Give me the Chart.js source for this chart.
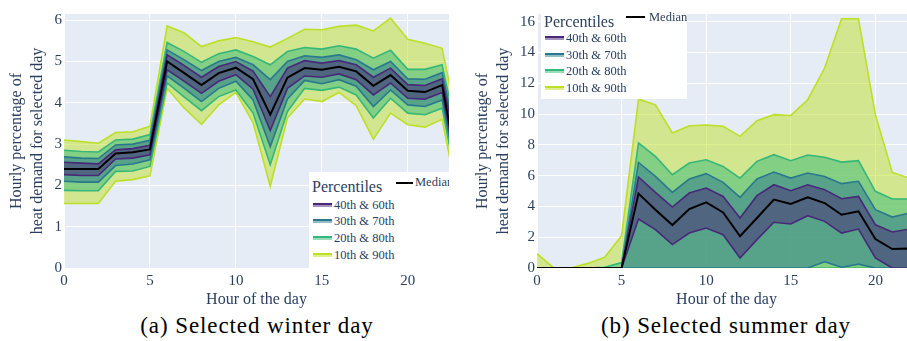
<!DOCTYPE html>
<html><head><meta charset="utf-8">
<script src="https://cdn.jsdelivr.net/npm/chart.js@4.4.1/dist/chart.umd.min.js"></script>
<style>
html,body{margin:0;padding:0;background:#fff;overflow:hidden;width:907px;height:341px;}
#wrap{position:relative;width:907px;height:341px;overflow:hidden;font-family:'Liberation Serif',serif;color:#2a3f5f;}
canvas{position:absolute;top:0;}
.lg{position:absolute;background:#fff;}
.lg div{position:absolute;white-space:nowrap;}
.ttl{font-size:16px;line-height:16px;}
.itm{font-size:12.5px;line-height:13px;}
.sw{width:19px;height:2px;border-top:2px solid #000;}
.med{height:2px;background:#000;}
.cap{position:absolute;top:313px;width:460px;text-align:center;font-family:'Liberation Serif',serif;font-size:23px;letter-spacing:0.9px;color:#000;white-space:nowrap;}
</style>
</head><body>
<div id="wrap">
<canvas id="c1" width="455" height="310" style="left:0px"></canvas>
<canvas id="c2" width="460" height="310" style="left:460px"></canvas>

<div class="lg" style="left:309px;top:172px;width:140px;height:96px;overflow:hidden;">
  <div class="ttl" style="left:3px;top:7px;">Percentiles</div>
  <div class="med" style="left:87px;top:10px;width:17px;"></div>
  <div class="itm" style="left:106px;top:4px;">Median</div>
  <div class="sw" style="left:4px;top:31px;border-color:#482878;background:rgba(72,40,120,0.5)"></div>
  <div class="itm" style="left:25px;top:27px;">40th &amp; 60th</div>
  <div class="sw" style="left:4px;top:47px;border-color:#2a788e;background:rgba(42,120,142,0.5)"></div>
  <div class="itm" style="left:25px;top:43px;">30th &amp; 70th</div>
  <div class="sw" style="left:4px;top:64px;border-color:#35b779;background:rgba(53,183,121,0.5)"></div>
  <div class="itm" style="left:25px;top:60px;">20th &amp; 80th</div>
  <div class="sw" style="left:4px;top:81px;border-color:#bddf26;background:rgba(189,223,38,0.5)"></div>
  <div class="itm" style="left:25px;top:77px;">10th &amp; 90th</div>
</div>

<div class="lg" style="left:541px;top:14px;width:146px;height:85px;overflow:visible;">
  <div class="ttl" style="left:3px;top:0px;">Percentiles</div>
  <div class="med" style="left:85px;top:2px;width:19px;"></div>
  <div class="itm" style="left:108px;top:-3px;">Median</div>
  <div class="sw" style="left:4px;top:22px;border-color:#482878;background:rgba(72,40,120,0.5)"></div>
  <div class="itm" style="left:25px;top:18px;">40th &amp; 60th</div>
  <div class="sw" style="left:4px;top:39px;border-color:#2a788e;background:rgba(42,120,142,0.5)"></div>
  <div class="itm" style="left:25px;top:35px;">30th &amp; 70th</div>
  <div class="sw" style="left:4px;top:55px;border-color:#35b779;background:rgba(53,183,121,0.5)"></div>
  <div class="itm" style="left:25px;top:51px;">20th &amp; 80th</div>
  <div class="sw" style="left:4px;top:72px;border-color:#bddf26;background:rgba(189,223,38,0.5)"></div>
  <div class="itm" style="left:25px;top:68px;">10th &amp; 90th</div>
</div>

<div class="cap" style="left:27px;">(a) Selected winter day</div>
<div class="cap" style="left:496px;">(b) Selected summer day</div>
</div>

<script>
const hours = [0,1,2,3,4,5,6,7,8,9,10,11,12,13,14,15,16,17,18,19,20,21,22,23];

// Selected winter day
const w10 = [1.56,1.56,1.56,2.10,2.14,2.23,4.35,3.87,3.48,3.95,4.25,3.52,1.98,3.63,4.09,4.03,4.25,3.93,3.12,3.75,3.47,3.41,3.60,1.50];
const w20 = [1.88,1.87,1.87,2.34,2.35,2.46,4.48,4.14,3.81,4.15,4.31,3.75,2.50,3.79,4.35,4.30,4.38,4.19,3.63,4.11,3.75,3.71,3.87,1.75];
const w30 = [2.10,2.08,2.08,2.48,2.52,2.62,4.65,4.35,4.03,4.35,4.52,4.07,2.94,4.09,4.54,4.46,4.56,4.40,3.91,4.31,3.95,3.91,4.07,1.90];
const w40 = [2.26,2.24,2.24,2.64,2.66,2.74,4.80,4.52,4.23,4.52,4.68,4.33,3.33,4.35,4.65,4.62,4.70,4.56,4.19,4.48,4.11,4.09,4.25,2.05];
const w50 = [2.40,2.40,2.40,2.77,2.80,2.87,5.00,4.72,4.43,4.72,4.85,4.57,3.71,4.61,4.84,4.80,4.87,4.76,4.41,4.67,4.29,4.26,4.43,2.20];
const w60 = [2.56,2.54,2.52,2.86,2.89,2.97,5.16,4.90,4.62,4.88,5.00,4.77,4.15,4.84,5.02,4.96,5.02,4.92,4.62,4.84,4.44,4.42,4.58,2.60];
const w70 = [2.69,2.66,2.65,2.98,3.00,3.09,5.28,5.04,4.78,5.00,5.10,4.92,4.56,5.00,5.14,5.10,5.16,5.04,4.80,5.00,4.58,4.57,4.73,2.80];
const w80 = [2.85,2.82,2.81,3.10,3.12,3.23,5.46,5.24,4.98,5.19,5.28,5.12,4.92,5.24,5.34,5.30,5.38,5.30,5.08,5.27,4.81,4.81,4.92,3.00];
const w90 = [3.10,3.06,3.02,3.28,3.30,3.43,5.86,5.69,5.36,5.50,5.58,5.48,5.35,5.56,5.78,5.77,5.85,5.88,5.74,6.05,5.54,5.44,5.32,3.30];

// Selected summer day
const s10 = [0,0,0,0,0,0,0,0,0,0,0,0,0,0,0,0,0,0,0,0,0,0,0,0];
const s20 = [0,0,0,0,0,0,0,0,0,0,0,0,0,0,0,0,0,0,0,0,0,0,0,0];
const s30 = [0,0,0,0,0,0,0,0,0,0,0,0,0,0,0,0,0,0.40,0.05,0.25,0,0,0,0];
const s40 = [0,0,0,0,0,0,3.18,2.49,1.52,2.27,2.60,2.16,0.65,1.84,2.97,2.86,3.40,3.03,2.27,2.53,0.65,0,0,0];
const s50 = [0,0,0,0,0,0,4.83,3.79,2.79,3.83,4.26,3.61,2.06,3.25,4.44,4.16,4.59,4.22,3.46,3.68,1.88,1.23,1.26,0.80];
const s60 = [0,0,0,0,0,0,5.91,4.91,3.96,4.87,5.19,4.65,3.25,4.70,5.41,5.02,5.41,5.09,4.50,4.65,2.81,2.34,2.53,1.50];
const s70 = [0,0,0,0,0,0,6.86,5.95,4.91,5.78,6.13,5.56,4.59,5.78,6.23,5.84,6.17,5.95,5.48,5.63,3.79,3.31,3.57,2.00];
const s80 = [0,0,0,0,0.05,0.35,8.12,7.25,6.06,6.82,7.03,6.60,5.84,6.93,7.36,6.97,7.34,7.19,6.88,6.97,4.98,4.48,4.48,2.80];
const s90 = [0.93,0,0,0.30,0.70,2.10,10.97,10.60,8.77,9.24,9.29,9.20,8.55,9.57,9.96,9.91,10.93,12.99,16.19,16.19,9.96,6.21,5.84,4.00];

const xTicks = [0,5,10,15,20];
const yTitle = ['Hourly percentage of','heat demand for selected day'];
const xTitle = 'Hour of the day';

const INK = '#2a3f5f';
const FONT = "'Liberation Serif', serif";

const bgPlugin = {
  id: 'plotbg',
  beforeDraw(chart) {
    const {ctx, chartArea: a} = chart;
    ctx.save();
    ctx.fillStyle = '#e5ecf6';
    ctx.fillRect(a.left, a.top, a.right - a.left, a.bottom - a.top);
    ctx.restore();
  }
};

function pts(arr) { return hours.map((h, i) => ({x: h, y: arr[i]})); }

function line(data, color, width, fillTarget, fillColor) {
  return {
    data: pts(data),
    borderColor: color,
    borderWidth: width,
    pointRadius: 0,
    tension: 0,
    fill: fillTarget === null ? false : fillTarget,
    backgroundColor: fillColor || 'transparent'
  };
}

function makeChart(id, p, yMax, yStep, yAxisW, titlePadTop, padRight) {
  const datasets = [
    line(p[4], '#000000', 2, null),                                   // 0 median
    line(p[5], '#482878', 1.6, 2, 'rgba(72,40,120,0.5)'),             // 1 p60
    line(p[3], '#482878', 1.6, null),                                 // 2 p40
    line(p[6], '#2a788e', 1.6, 4, 'rgba(42,120,142,0.5)'),            // 3 p70
    line(p[2], '#2a788e', 1.6, null),                                 // 4 p30
    line(p[7], '#35b779', 1.6, 6, 'rgba(53,183,121,0.5)'),            // 5 p80
    line(p[1], '#35b779', 1.6, null),                                 // 6 p20
    line(p[8], '#bddf26', 1.6, 8, 'rgba(189,223,38,0.5)'),            // 7 p90
    line(p[0], '#bddf26', 1.6, null)                                  // 8 p10
  ];
  return new Chart(document.getElementById(id), {
    type: 'line',
    data: {datasets},
    plugins: [bgPlugin],
    options: {
      responsive: false,
      animation: false,
      devicePixelRatio: 1,
      layout: {padding: {top: 14, right: padRight, left: 0, bottom: 0}},
      plugins: {
        legend: {display: false},
        tooltip: {enabled: false},
        filler: {drawTime: 'beforeDatasetsDraw', propagate: false}
      },
      scales: {
        x: {
          type: 'linear',
          min: 0, max: 22.4,
          afterBuildTicks(s) { s.ticks = xTicks.map(v => ({value: v})); },
          afterFit(s) { s.height = 42; },
          ticks: {includeBounds: false, padding: 4, color: INK, font: {family: FONT, size: 15}, maxRotation: 0},
          grid: {color: '#ffffff', lineWidth: 1, drawTicks: false},
          border: {display: false},
          title: {display: true, text: xTitle, color: INK, font: {family: FONT, size: 16}, padding: {top: 0, bottom: 1}}
        },
        y: {
          min: 0, max: yMax,
          afterFit(s) { s.width = yAxisW; },
          ticks: {stepSize: yStep, includeBounds: false, padding: 2, color: INK, font: {family: FONT, size: 15}},
          grid: {color: '#ffffff', lineWidth: 1, drawTicks: false},
          border: {display: false},
          title: {display: true, text: yTitle, color: INK, font: {family: FONT, size: 16, lineHeight: 1.3125}, padding: {top: titlePadTop, bottom: 0}}
        }
      }
    }
  });
}

makeChart('c1', [w10,w20,w30,w40,w50,w60,w70,w80,w90], 6.15, 1, 64, 6.5, 6);
makeChart('c2', [s10,s20,s30,s40,s50,s60,s70,s80,s90], 16.5, 2, 77, 12.5, 4);
</script>
</body></html>
